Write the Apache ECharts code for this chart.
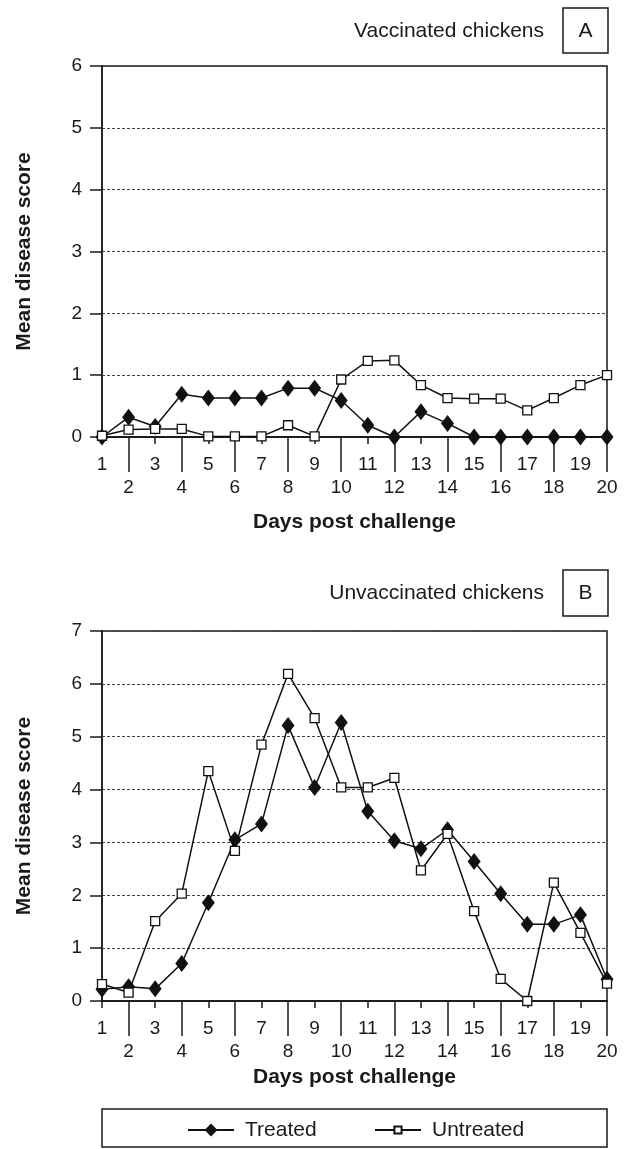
<!DOCTYPE html>
<html>
<head>
<meta charset="utf-8">
<script src="https://cdn.jsdelivr.net/npm/echarts@6/dist/echarts.min.js"></script>
<style>
html,body{margin:0;padding:0;background:#fff;}
#chart{width:625px;height:1149px;}
</style>
</head>
<body>
<div id="chart"></div>
<script>
var days = [1,2,3,4,5,6,7,8,9,10,11,12,13,14,15,16,17,18,19,20];
var oddDays = [1,3,5,7,9,11,13,15,17,19];
var evenDays = [2,4,6,8,10,12,14,16,18,20];
var aTreated   = [0, 0.32, 0.17, 0.69, 0.63, 0.63, 0.63, 0.79, 0.79, 0.59, 0.19, 0, 0.41, 0.22, 0, 0, 0, 0, 0, 0];
var aUntreated = [0.02, 0.12, 0.13, 0.13, 0.01, 0.01, 0.01, 0.19, 0.01, 0.93, 1.23, 1.24, 0.84, 0.63, 0.62, 0.62, 0.43, 0.63, 0.84, 1.0];
var bTreated   = [0.22, 0.27, 0.23, 0.71, 1.86, 3.05, 3.35, 5.21, 4.04, 5.27, 3.59, 3.03, 2.88, 3.24, 2.64, 2.03, 1.45, 1.45, 1.63, 0.41];
var bUntreated = [0.32, 0.16, 1.51, 2.03, 4.35, 2.84, 4.85, 6.19, 5.35, 4.04, 4.04, 4.22, 2.47, 3.16, 1.70, 0.42, 0, 2.24, 1.29, 0.33];
var panelTitles = ['Vaccinated chickens', 'Unvaccinated chickens'];
var panelLetters = ['A', 'B'];
var seriesNames = ['Treated', 'Untreated'];
var xName = 'Days post challenge';
var yName = 'Mean disease score';

function pairs(vals){ return days.map(function(d,i){ return [d, vals[i]]; }); }

var FONT = '"Liberation Sans", Arial, Helvetica, sans-serif';
var INK = '#1a1a1a';

function xAx(gi, vals, tickLen, margin, withName, nameGap){
  return {
    type:'value', gridIndex:gi, min:1, max:20, interval:1, position:'bottom',
    axisLine:{show:true, lineStyle:{color:INK, width:1.5}},
    axisTick:{show:true, customValues:vals, length:tickLen, lineStyle:{color:INK, width:1.5}},
    axisLabel:{show:true, customValues:vals, margin:margin, fontSize:19, color:INK, fontFamily:FONT},
    splitLine:{show:false},
    name: withName ? xName : '', nameLocation:'middle', nameGap:nameGap,
    nameTextStyle:{fontSize:21, fontWeight:'bold', color:INK, fontFamily:FONT}
  };
}
function yAx(gi, max){
  return {
    type:'value', gridIndex:gi, min:0, max:max, interval:1,
    axisLine:{show:true, lineStyle:{color:INK, width:1.5}},
    axisTick:{show:true, length:12, lineStyle:{color:INK, width:1.5}},
    axisLabel:{margin:20, fontSize:19, color:INK, fontFamily:FONT},
    splitLine:{show:true, lineStyle:{color:'#444', width:1, type:[3,2]}},
    name:yName, nameLocation:'middle', nameGap:67, nameRotate:90,
    nameTextStyle:{fontSize:21, fontWeight:'bold', color:INK, fontFamily:FONT}
  };
}
function ser(name, gi, xi, vals, treated){
  return {
    name:name, type:'line', xAxisIndex:xi, yAxisIndex:gi, data:pairs(vals), clip:false,
    symbol: treated ? 'diamond' : 'rect',
    symbolSize: treated ? [13,17] : [9,9],
    itemStyle: treated ? {color:'#111', borderColor:'#111', borderWidth:0}
                       : {color:'#fff', borderColor:'#111', borderWidth:1.3},
    lineStyle:{color:'#111', width:1.5},
    z: treated ? 2 : 3, animation:false
  };
}
function leg(name, left, h){
  return {
    left:left, top:1130 - 12, padding:0, itemWidth:46, itemHeight:h,
    data:[name],
    textStyle:{fontSize:21, color:INK, fontFamily:FONT, padding:[0,0,0,6], lineHeight:24, height:24}
  };
}

var chart = echarts.init(document.getElementById('chart'), null, {renderer:'canvas'});
chart.setOption({
  animation:false,
  backgroundColor:'#fff',
  grid:[
    {left:102, width:505, top:66, height:371, show:true, borderColor:INK, borderWidth:1.5},
    {left:102, width:505, top:631, height:370, show:true, borderColor:INK, borderWidth:1.5}
  ],
  xAxis:[
    xAx(0, oddDays, 7, 18, false, 0),
    xAx(0, evenDays, 35, 41, true, 75),
    xAx(1, oddDays, 7, 18, false, 0),
    xAx(1, evenDays, 35, 41, true, 66)
  ],
  yAxis:[ yAx(0, 6), yAx(1, 7) ],
  legend:[ leg(seriesNames[0], 187, 16), leg(seriesNames[1], 374, 9) ],
  series:[
    ser(seriesNames[0], 0, 0, aTreated, true),
    ser(seriesNames[1], 0, 0, aUntreated, false),
    ser(seriesNames[0], 1, 2, bTreated, true),
    ser(seriesNames[1], 1, 2, bUntreated, false)
  ],
  graphic:[
    {type:'text', x:544, y:31, style:{text:panelTitles[0], font:'21px '+FONT, fill:INK, textAlign:'right', textVerticalAlign:'middle'}},
    {type:'rect', shape:{x:563, y:8, width:45, height:45}, style:{fill:'none', stroke:INK, lineWidth:1.5}},
    {type:'text', x:585.5, y:31, style:{text:panelLetters[0], font:'21px '+FONT, fill:INK, textAlign:'center', textVerticalAlign:'middle'}},
    {type:'text', x:544, y:593, style:{text:panelTitles[1], font:'21px '+FONT, fill:INK, textAlign:'right', textVerticalAlign:'middle'}},
    {type:'rect', shape:{x:563, y:570, width:45, height:46}, style:{fill:'none', stroke:INK, lineWidth:1.5}},
    {type:'text', x:585.5, y:593, style:{text:panelLetters[1], font:'21px '+FONT, fill:INK, textAlign:'center', textVerticalAlign:'middle'}},
    {type:'rect', shape:{x:102, y:1109, width:505, height:38}, style:{fill:'none', stroke:INK, lineWidth:1.5}}
  ]
});
</script>
</body>
</html>
